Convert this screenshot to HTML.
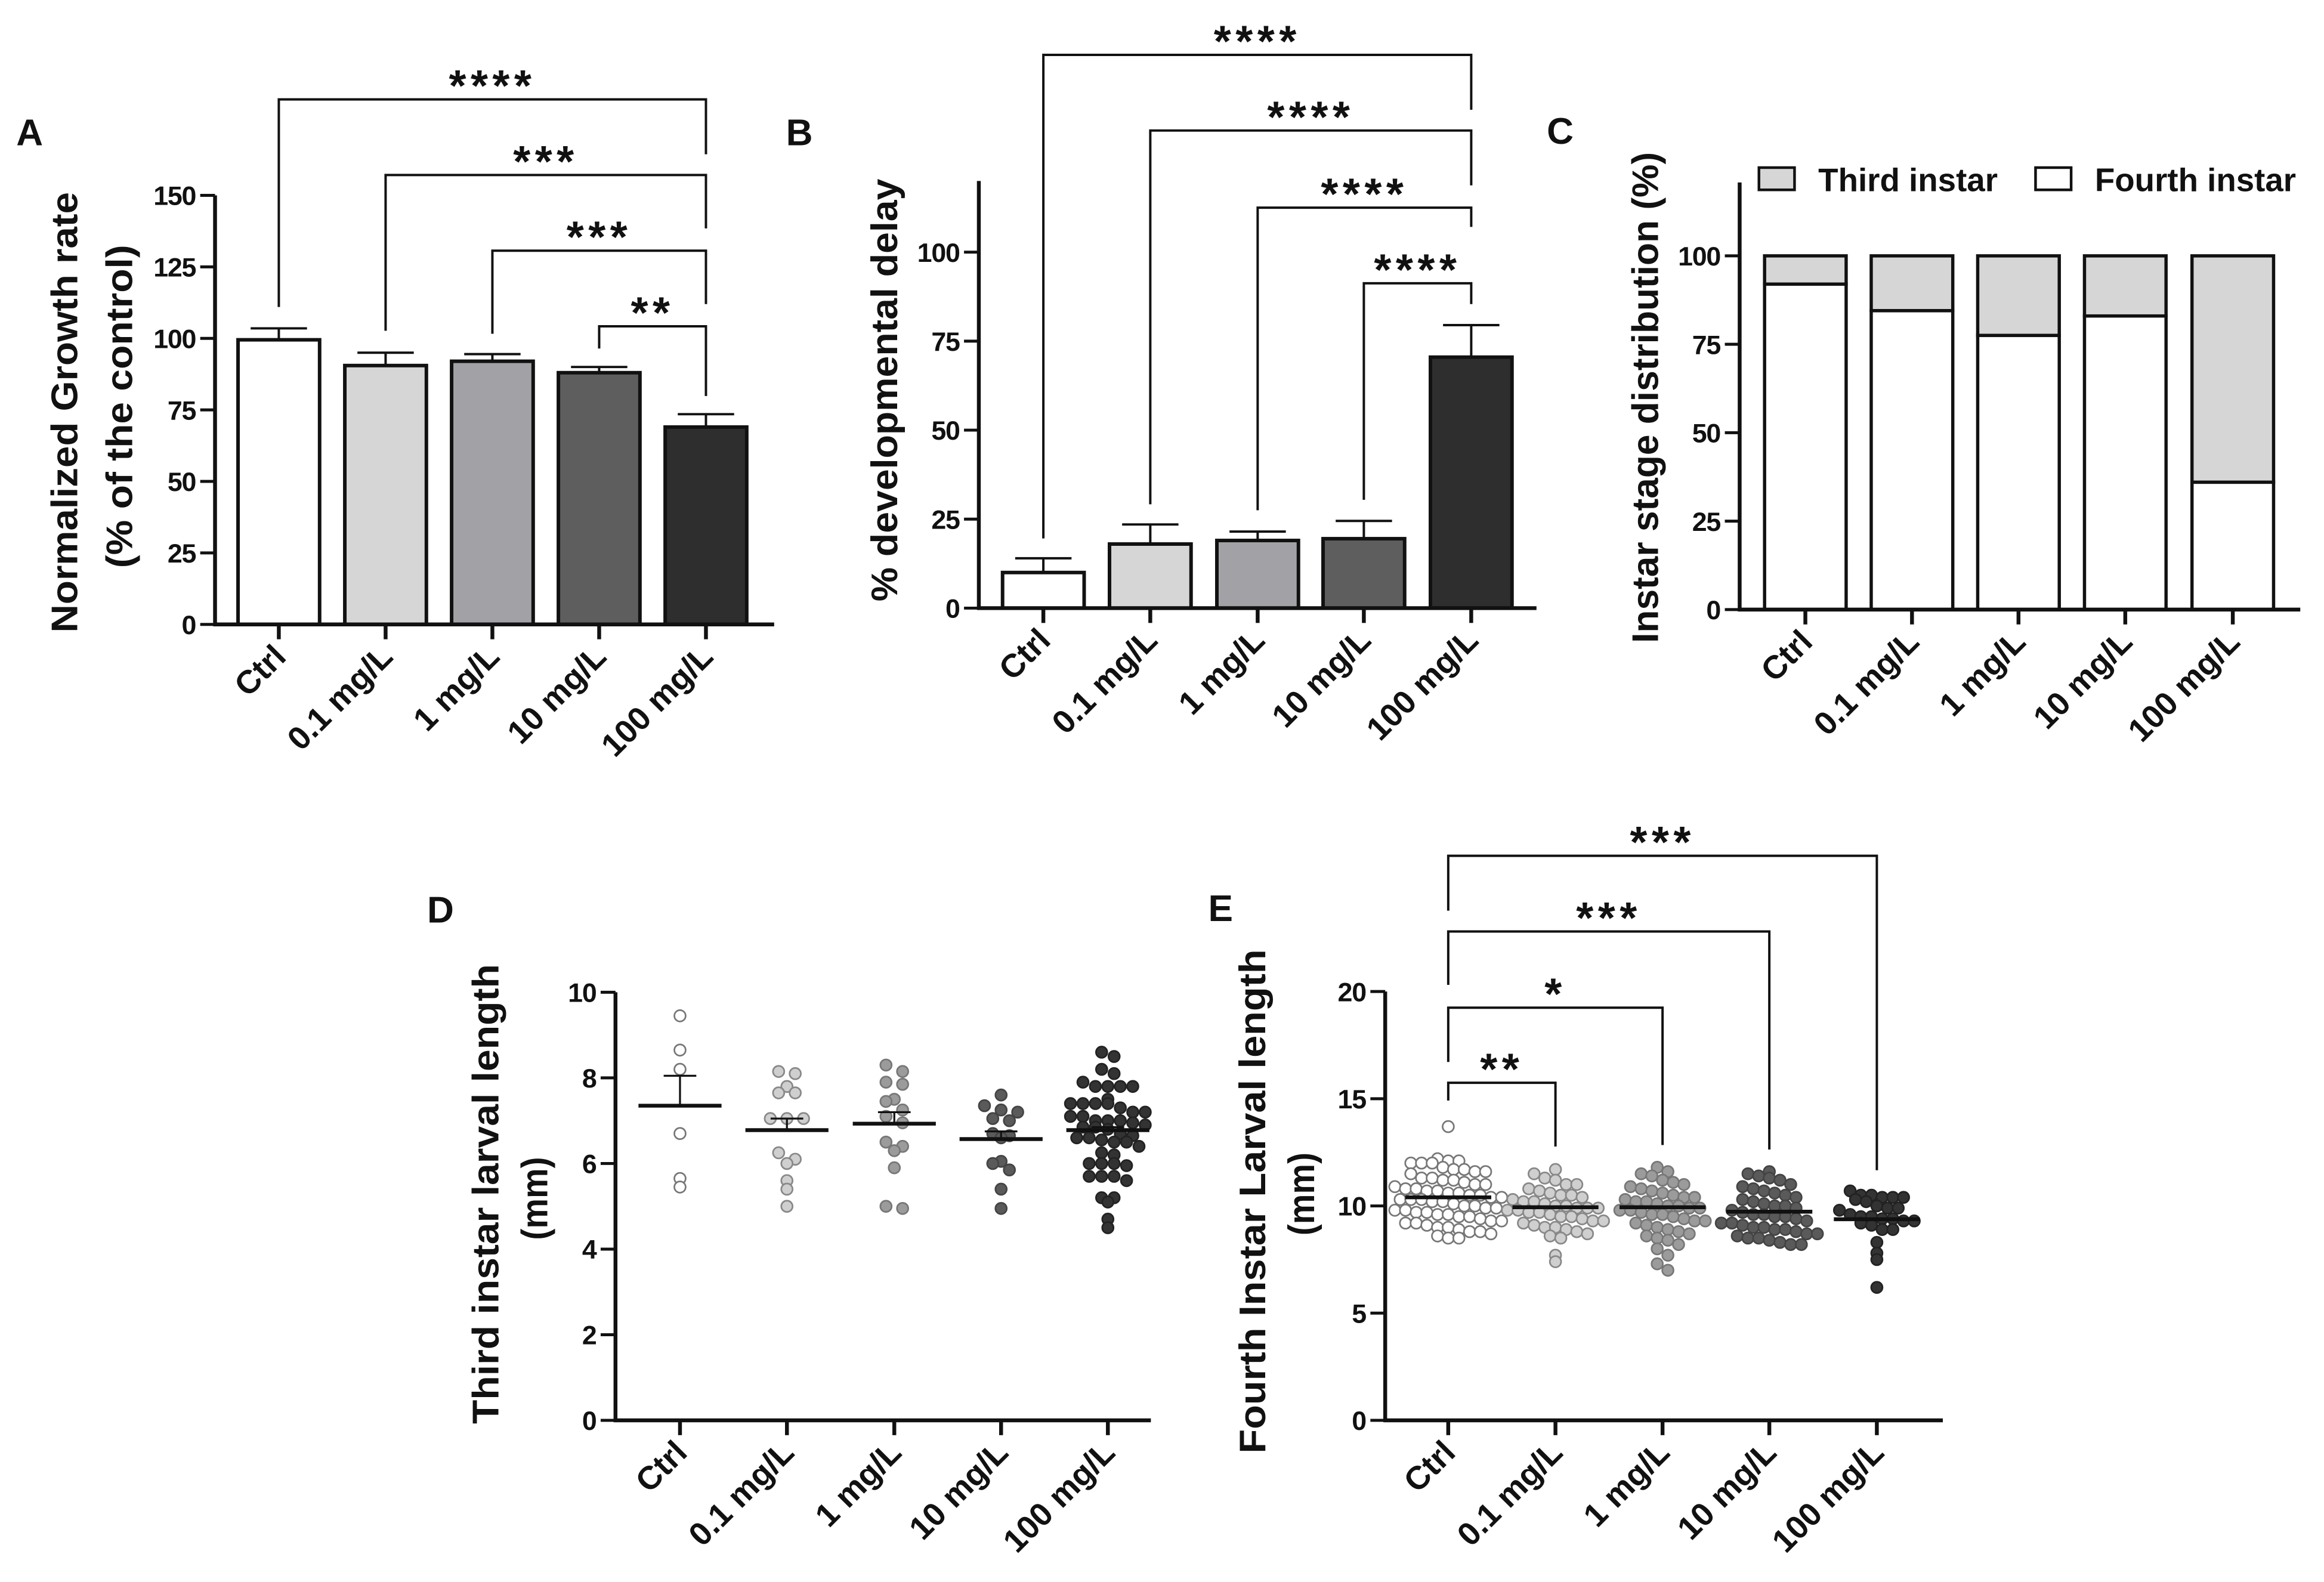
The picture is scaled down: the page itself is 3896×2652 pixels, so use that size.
<!DOCTYPE html>
<html><head><meta charset="utf-8">
<style>
html,body{margin:0;padding:0;background:#fff;}
svg{display:block;}
text{font-family:"Liberation Sans",Arial,sans-serif;font-weight:bold;fill:#111;}
</style></head>
<body>
<svg id="fig" xmlns="http://www.w3.org/2000/svg" width="3896" height="2652" viewBox="0 0 1567 1066.6" preserveAspectRatio="none">
<rect x="0" y="0" width="1567" height="1066.6" fill="#fff"/>
</svg>
<script>
// ---------- DATA ----------
const categories = ["Ctrl","0.1 mg/L","1 mg/L","10 mg/L","100 mg/L"];
const barColors = ["#ffffff","#d6d6d6","#a2a2a6","#5e5e5e","#2e2e2e"];
// Panel A
const growthMean = [99.5, 90.5, 92, 88, 69];
const growthErr  = [103.5, 95, 94.5, 90, 73.5];
const ticksA = [0,25,50,75,100,125,150];
const sigA = ["****","***","***","**"];
// Panel B
const delayMean = [10, 18, 19, 19.5, 70.5];
const delayErr  = [14, 23.5, 21.5, 24.5, 79.5];
const ticksB = [0,25,50,75,100];
const sigB = ["****","****","****","****"];
// Panel C
const fourthPct = [92, 84.5, 77.5, 83, 36];
const totalPct = [100,100,100,100,100];
const ticksC = [0,25,50,75,100];
// Panel D
const thirdLen = [
 [9.45,8.65,8.2,6.7,5.65,5.45],
 [8.15,8.1,7.8,7.65,7.65,7.05,7.05,7.05,6.25,6.1,6.0,5.6,5.4,5.0],
 [8.3,8.15,7.9,7.85,7.5,7.45,7.25,7.1,6.95,6.5,6.4,6.3,5.9,5.0,4.95],
 [7.6,7.35,7.25,7.2,7.05,7.0,6.7,6.65,6.6,6.05,6.0,5.85,5.4,4.95],
 [8.6,8.5,8.2,8.1,7.9,7.8,7.8,7.8,7.8,7.5,7.4,7.4,7.4,7.4,7.3,7.2,7.2,7.1,7.1,7.0,7.0,7.0,6.95,6.9,6.85,6.85,6.8,6.7,6.65,6.6,6.6,6.55,6.5,6.5,6.4,6.25,6.2,6.0,6.0,6.0,5.95,5.7,5.7,5.7,5.6,5.2,5.2,5.1,4.7,4.5]
];
const thirdMean = [7.35, 6.78, 6.93, 6.57, 6.78];
const thirdSem  = [8.05, 7.05, 7.2, 6.75, 6.85];
const ticksD = [0,2,4,6,8,10];
// Panel E
const fourthLen = [
 [13.7,12.2,12.1,12.1,12.0,12.0,12.0,11.8,11.7,11.7,11.6,11.6,11.5,11.3,11.3,11.2,11.2,11.1,11.0,11.0,10.9,10.8,10.8,10.7,10.7,10.6,10.6,10.5,10.5,10.4,10.4,10.3,10.3,10.3,10.2,10.2,10.1,10.0,10.0,9.9,9.9,9.8,9.8,9.7,9.7,9.6,9.6,9.5,9.5,9.4,9.3,9.3,9.2,9.2,9.1,9.0,9.0,8.9,8.8,8.8,8.7,8.6,8.5,8.5],
 [11.7,11.5,11.3,11.2,11.0,11.0,10.8,10.7,10.6,10.5,10.5,10.4,10.3,10.2,10.2,10.1,10.0,10.0,9.9,9.9,9.9,9.8,9.8,9.7,9.7,9.6,9.5,9.5,9.4,9.3,9.3,9.2,9.1,9.0,9.0,8.9,8.8,8.7,8.6,8.5,7.7,7.4],
 [11.8,11.6,11.5,11.4,11.2,11.1,11.0,10.9,10.8,10.7,10.6,10.5,10.4,10.4,10.3,10.2,10.2,10.1,10.0,10.0,9.9,9.9,9.8,9.8,9.7,9.6,9.6,9.5,9.4,9.3,9.3,9.2,9.1,9.0,8.9,8.8,8.7,8.6,8.5,8.4,8.2,8.0,7.7,7.3,7.0],
 [11.6,11.5,11.4,11.3,11.2,11.0,10.9,10.8,10.7,10.6,10.5,10.4,10.3,10.2,10.1,10.0,10.0,9.9,9.8,9.7,9.6,9.6,9.5,9.5,9.4,9.3,9.2,9.2,9.1,9.0,9.0,8.9,8.9,8.8,8.7,8.7,8.6,8.5,8.5,8.4,8.3,8.2,8.2],
 [10.7,10.5,10.5,10.4,10.4,10.4,10.3,10.2,10.0,9.9,9.9,9.8,9.6,9.5,9.5,9.4,9.4,9.3,9.3,9.2,9.1,8.9,8.9,8.3,7.8,7.5,6.2]
];
const fourthMean = [10.4, 9.94, 9.94, 9.73, 9.38];
const ticksE = [0,5,10,15,20];
const sigE = ["**","*","***","***"];
const dotFill = ["#ffffff","#cfcfcf","#9b9b9b","#5a5a5a","#333333"];
const dotStroke = ["#777","#888","#777","#444","#222"];

// ---------- HELPERS ----------
const NS="http://www.w3.org/2000/svg";
const svg=document.getElementById('fig');
function el(tag,attrs,parent,txt){const e=document.createElementNS(NS,tag);for(const k in attrs)e.setAttribute(k,attrs[k]);if(txt!==undefined)e.textContent=txt;(parent||svg).appendChild(e);return e;}
function group(name){const g=el('g',{});


return g;}
function line(g,x1,y1,x2,y2,w,name){const l=el('line',{x1,y1,x2,y2,stroke:'#111','stroke-width':w},g);


return l;}
function txt(g,x,y,s,size,anchor,name,extra){const t=el('text',Object.assign({x,y,'font-size':size,'text-anchor':anchor||'middle'},extra||{}),g,s);


return t;}

function axes(g,ax,y0,yTop,xEnd,centers,ticks,ys){
  line(g,ax,y0+1.2,ax,yTop,2.6,'y-axis-line');
  line(g,ax-1.2,y0,xEnd,y0,2.6,'x-axis-line');
  ticks.forEach(v=>{const y=ys(v);line(g,ax-10,y,ax,y,2,'y-tick');
    txt(g,ax-13,y+6.5,String(v),18,'end','y-tick-label',{'letter-spacing':'-0.5'});});
  centers.forEach((c,i)=>{line(g,c,y0,c,y0+10,2.6,'x-tick');
    txt(g,c+6,y0+23,categories[i],22,'end','x-tick-label',{transform:`rotate(-45 ${c+6} ${y0+23})`});});
}
function ylabel(g,x,cy,s,len,size,name){
  txt(g,x,cy,s,size,'middle',name,{transform:`rotate(-90 ${x} ${cy})`,textLength:len,lengthAdjust:'spacingAndGlyphs'});
}
function stars(g,cx,cy,s,name){
  txt(g,cx,cy+18,s,30,'middle',name,{'font-weight':'normal','letter-spacing':'3'});
}
function bracket(g,x1,x2,y,l1,l2,name){
  const p=el('path',{d:`M${x1} ${l1} V${y} H${x2} V${l2}`,fill:'none',stroke:'#111','stroke-width':1.6},g);
  
  
}

function barPanel(cfg){
  const g=group(cfg.name);
  const ys=v=>cfg.y0-(v-0)*(cfg.y0-cfg.y100)/cfg.vmax;
  const w=55;
  cfg.mean.forEach((m,i)=>{
    const c=cfg.centers[i];
    line(g,c,ys(m),c,ys(cfg.err[i]),1.6,'error-bar');
    line(g,c-19,ys(cfg.err[i]),c+19,ys(cfg.err[i]),1.6,'error-cap');
    const r=el('rect',{x:c-w/2,y:ys(m),width:w,height:cfg.y0-ys(m),fill:barColors[i],stroke:'#111','stroke-width':2.4},g);
    
    
  });
  axes(g,cfg.ax,cfg.y0,cfg.yTop,cfg.xEnd,cfg.centers,cfg.ticks,ys);
  return g;
}

// ---------- PANEL A ----------
(function(){
  const centers=[188,260,332,404,476];
  const g=barPanel({name:'panel-a',ax:145,y0:421,y100:131.7,vmax:150,yTop:131.7,xEnd:522,centers,ticks:ticksA,mean:growthMean,err:growthErr});
  const lines=[67,118,169,220], lefts=[207,223,225,235], rights=[104,154,205,267];
  sigA.forEach((s,k)=>{const x1=centers[k],x2=centers[4];
    bracket(g,x1,x2,lines[k],lefts[k],rights[k],'significance-bracket');
    stars(g,(x1+x2)/2,lines[k]-17,s,'significance-stars');});
  txt(g,20,98,'A',25,'middle','panel-label-a');
  ylabel(g,52,278,'Normalized Growth rate',297,25,'y-axis-title');
  ylabel(g,89,274,'(% of the control)',218,25,'y-axis-title-sub');
})();

// ---------- PANEL B ----------
(function(){
  const centers=[703.5,775.6,848,919.6,992];
  const g=barPanel({name:'panel-b',ax:660,y0:410,y100:170,vmax:100,yTop:122,xEnd:1036,centers,ticks:ticksB,mean:delayMean,err:delayErr});
  const lines=[37,88,140,191], lefts=[363,340,344,337], rights=[74,125,153,205];
  sigB.forEach((s,k)=>{const x1=centers[k],x2=centers[4];
    bracket(g,x1,x2,lines[k],lefts[k],rights[k],'significance-bracket');
    stars(g,(x1+x2)/2,lines[k]-17,s,'significance-stars');});
  txt(g,539,98,'B',25,'middle','panel-label-b');
  ylabel(g,605,263,'% developmental delay',285,25,'y-axis-title');
})();

// ---------- PANEL C ----------
(function(){
  const g=group('panel-c');
  const centers=[1217.3,1289.2,1361,1433,1505.5];
  const y0=411,y100=172.5;
  const ys=v=>y0-v*(y0-y100)/100;
  const w=55;
  categories.forEach((c,i)=>{
    const cx=centers[i];
    const r1=el('rect',{x:cx-w/2,y:ys(totalPct[i]),width:w,height:ys(fourthPct[i])-ys(totalPct[i]),fill:'#d6d6d6',stroke:'#111','stroke-width':2.2},g);
    
    
    const r2=el('rect',{x:cx-w/2,y:ys(fourthPct[i]),width:w,height:y0-ys(fourthPct[i]),fill:'#fff',stroke:'#111','stroke-width':2.2},g);
    
    
  });
  axes(g,1173,y0,123,1551,centers,ticksC,ys);
  txt(g,1052,97,'C',25,'middle','panel-label-c');
  ylabel(g,1118,268,'Instar stage distribution (%)',331,25,'y-axis-title');
  const lg=group('legend'); g.appendChild(lg);
  const b1=el('rect',{x:1186,y:113,width:24,height:15,fill:'#d6d6d6',stroke:'#111','stroke-width':1.8},lg);
  
  
  txt(lg,1226,129,'Third instar',22,'start','legend-entry-third');
  const b2=el('rect',{x:1372.5,y:113,width:24,height:15,fill:'#fff',stroke:'#111','stroke-width':1.8},lg);
  
  
  txt(lg,1412.5,129,'Fourth instar',22,'start','legend-entry-fourth');
})();

// ---------- SWARM ----------
function swarm(g,vals,cx,ys,r,sp,fill,stroke){
  const bins={};
  vals.forEach(v=>{const y=ys(v);const b=Math.round(y/(2*r+0.6));(bins[b]=bins[b]||[]).push(y);});
  Object.keys(bins).forEach(b=>{const arr=bins[b];const n=arr.length;
    arr.forEach((y,i)=>{const off=(i-(n-1)/2)*sp;
      const c=el('circle',{cx:cx+off,cy:y,r:r,fill:fill,stroke:stroke,'stroke-width':1.1},g);
      
      
    });});
}

// ---------- PANEL D ----------
(function(){
  const g=group('panel-d');
  const centers=[458.5,530.6,603,675,747];
  const y0=957.6,y10=669;
  const ys=v=>y0-v*(y0-y10)/10;
  thirdLen.forEach((vals,i)=>{
    swarm(g,vals,centers[i],ys,3.8,i===4?8.4:(i===0?11.6:11.2),dotFill[i],dotStroke[i]);
    line(g,centers[i],ys(thirdMean[i]),centers[i],ys(thirdSem[i]),1.3,'sem-bar');
    line(g,centers[i]-11,ys(thirdSem[i]),centers[i]+11,ys(thirdSem[i]),1.3,'sem-cap');
    line(g,centers[i]-28,ys(thirdMean[i]),centers[i]+28,ys(thirdMean[i]),2.6,'mean-line');
  });
  axes(g,415,y0,y10,776,centers,ticksD,ys);
  txt(g,297,622,'D',25,'middle','panel-label-d');
  ylabel(g,336,805,'Third instar larval length',310,25,'y-axis-title');
  ylabel(g,369,808,'(mm)',56,25,'y-axis-title-unit');
})();

// ---------- PANEL E ----------
(function(){
  const g=group('panel-e');
  const centers=[976.5,1048.8,1121,1193,1265.5];
  const y0=957.6,y20=668.5;
  const ys=v=>y0-v*(y0-y20)/20;
  fourthLen.forEach((vals,i)=>{
    swarm(g,vals,centers[i],ys,3.8,7.2,dotFill[i],dotStroke[i]);
    line(g,centers[i]-29,ys(fourthMean[i]),centers[i]+29,ys(fourthMean[i]),2.6,'mean-line');
  });
  axes(g,934,y0,y20,1310,centers,ticksE,ys);
  const lines=[730,679.4,628,577], lefts=[742,716,664,614], rights=[773,772,775,789];
  const ends=[1,2,3,4];
  sigE.forEach((s,k)=>{const x1=centers[0],x2=centers[ends[k]];
    bracket(g,x1,x2,lines[k],lefts[k],rights[k],'significance-bracket');
    stars(g,(x1+x2)/2,lines[k]-17,s,'significance-stars');});
  txt(g,823,621,'E',25,'middle','panel-label-e');
  ylabel(g,853,810,'Fourth Instar Larval length',340,25,'y-axis-title');
  ylabel(g,886,805,'(mm)',56,25,'y-axis-title-unit');
})();
</script>
</body></html>
